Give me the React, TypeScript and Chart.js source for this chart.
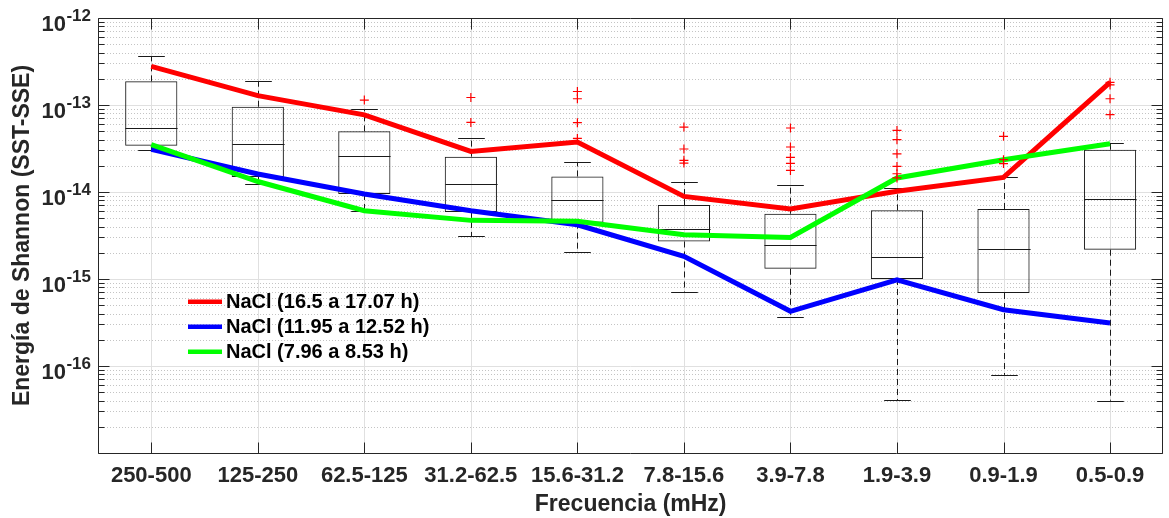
import React, { useEffect, useRef } from 'react';
import { Chart, registerables } from 'chart.js';

Chart.register(...registerables);

const categories = ['250-500', '125-250', '62.5-125', '31.2-62.5', '15.6-31.2', '7.8-15.6', '3.9-7.8', '1.9-3.9', '0.9-1.9', '0.5-0.9'];

const redSeries = [2.78e-13, 1.28e-13, 7.7e-14, 2.93e-14, 3.75e-14, 8.9e-15, 6.4e-15, 1.02e-14, 1.47e-14, 1.82e-13];
const blueSeries = [3.1e-14, 1.61e-14, 9.5e-15, 6.1e-15, 4.2e-15, 1.82e-15, 4.25e-16, 9.8e-16, 4.44e-16, 3.12e-16];
const greenSeries = [3.5e-14, 1.32e-14, 6.1e-15, 4.72e-15, 4.6e-15, 3.23e-15, 3.0e-15, 1.45e-14, 2.35e-14, 3.59e-14];

const boxQ1 = [3.4e-14, 1.49e-14, 9.5e-15, 5.9e-15, 4.44e-15, 2.7e-15, 1.31e-15, 1.0e-15, 6.9e-16, 2.17e-15];
const boxMedian = [5.44e-14, 3.56e-14, 2.57e-14, 1.25e-14, 8.16e-15, 3.76e-15, 2.48e-15, 1.79e-15, 2.21e-15, 8.37e-15];
const boxQ3 = [1.87e-13, 9.55e-14, 4.98e-14, 2.55e-14, 1.51e-14, 7.08e-15, 5.63e-15, 6.15e-15, 6.38e-15, 3.06e-14];
const whiskerLow = [3.0e-14, 1.25e-14, 5.98e-15, 3.12e-15, 2.06e-15, 7.1e-16, 3.66e-16, 4.07e-17, 7.9e-17, 3.99e-17];
const whiskerHigh = [3.66e-13, 1.89e-13, 9.0e-14, 4.18e-14, 2.21e-14, 1.31e-14, 1.19e-14, 1.11e-14, 1.49e-14, 3.66e-14];

const outliers = [
  [],
  [],
  [1.14e-13],
  [1.22e-13, 6.3e-14],
  [1.43e-13, 1.18e-13, 6.26e-14, 4.13e-14],
  [5.58e-14, 3.12e-14, 2.31e-14, 2.15e-14],
  [5.44e-14, 3.29e-14, 2.5e-14, 2.13e-14, 1.77e-14],
  [5.1e-14, 3.99e-14, 2.75e-14, 1.97e-14, 1.62e-14, 1.45e-14],
  [4.36e-14, 2.35e-14, 2.12e-14],
  [1.82e-13, 1.7e-13, 1.18e-13, 7.74e-14],
];

const legendLabels = ['NaCl (16.5 a 17.07 h)', 'NaCl (11.95 a 12.52 h)', 'NaCl (7.96 a 8.53 h)'];
const seriesColors = ['#ff0000', '#0000ff', '#00ff00'];

const yDecades = [-17, -16, -15, -14, -13, -12];
const yLabelDecades = [-16, -15, -14, -13, -12];

const FONT = '"Liberation Sans", Arial, Helvetica, sans-serif';
const AXIS_COLOR = '#262626';

export default function App() {
  const ref = useRef<HTMLCanvasElement>(null);

  useEffect(() => {
    const canvas = ref.current;
    if (!canvas) return;

    const outlierPoints = outliers.flatMap((arr, i) => arr.map((v) => ({ x: categories[i], y: v })));

    const decorPlugin = {
      id: 'decor',
      beforeDatasetsDraw(chart: any) {
        const { ctx, chartArea: a, scales } = chart;
        const ys = scales.y;
        const xs = scales.x;
        ctx.save();
        ctx.strokeStyle = '#c4c4c4';
        ctx.lineWidth = 1;
        ctx.setLineDash([1, 2]);
        for (let d = 0; d < yDecades.length - 1; d++) {
          for (let m = 2; m <= 9; m++) {
            const y = Math.round(ys.getPixelForValue(m * Math.pow(10, yDecades[d]))) + 0.5;
            ctx.beginPath();
            ctx.moveTo(a.left, y);
            ctx.lineTo(a.right, y);
            ctx.stroke();
          }
        }
        ctx.setLineDash([]);
        ctx.strokeStyle = '#e0e0e0';
        yDecades.forEach((e) => {
          const y = Math.round(ys.getPixelForValue(Math.pow(10, e))) + 0.5;
          ctx.beginPath();
          ctx.moveTo(a.left, y);
          ctx.lineTo(a.right, y);
          ctx.stroke();
        });
        categories.forEach((_, i) => {
          const x = Math.round(xs.getPixelForValue(i)) + 0.5;
          ctx.beginPath();
          ctx.moveTo(x, a.top);
          ctx.lineTo(x, a.bottom);
          ctx.stroke();
        });
        ctx.restore();
      },
      afterDatasetDraw(chart: any, args: any) {
        if (args.index !== 0) return;
        const { ctx, scales } = chart;
        const ys = scales.y;
        const xs = scales.x;
        ctx.save();
        ctx.strokeStyle = '#1a1a1a';
        ctx.lineWidth = 1;
        categories.forEach((_, i) => {
          const x = Math.round(xs.getPixelForValue(i)) + 0.5;
          const band = xs.getPixelForValue(1) - xs.getPixelForValue(0);
          const boxHalf = band * 0.245;
          const capHalf = band * 0.125;
          const yq1 = ys.getPixelForValue(boxQ1[i]);
          const yq3 = ys.getPixelForValue(boxQ3[i]);
          const ylo = ys.getPixelForValue(whiskerLow[i]);
          const yhi = ys.getPixelForValue(whiskerHigh[i]);
          const ymed = Math.round(ys.getPixelForValue(boxMedian[i])) + 0.5;
          ctx.setLineDash([6, 4]);
          ctx.beginPath();
          ctx.moveTo(x, yq3);
          ctx.lineTo(x, yhi);
          ctx.moveTo(x, yq1);
          ctx.lineTo(x, ylo);
          ctx.stroke();
          ctx.setLineDash([]);
          ctx.beginPath();
          const yh = Math.round(yhi) + 0.5;
          const yl = Math.round(ylo) + 0.5;
          ctx.moveTo(x - capHalf, yh);
          ctx.lineTo(x + capHalf, yh);
          ctx.moveTo(x - capHalf, yl);
          ctx.lineTo(x + capHalf, yl);
          ctx.stroke();
          ctx.beginPath();
          ctx.moveTo(x - boxHalf, ymed);
          ctx.lineTo(x + boxHalf, ymed);
          ctx.stroke();
        });
        ctx.restore();
      },
      afterDraw(chart: any) {
        const { ctx, chartArea: a, scales } = chart;
        const ys = scales.y;
        const xs = scales.x;
        ctx.save();
        ctx.strokeStyle = AXIS_COLOR;
        ctx.lineWidth = 1;
        const L = Math.round(a.left) + 0.5;
        const R = Math.round(a.right) - 0.5;
        const T = Math.round(a.top) + 0.5;
        const B = Math.round(a.bottom) + 0.5;
        ctx.beginPath();
        ctx.rect(L, T, R - L, B - T);
        ctx.stroke();
        ctx.beginPath();
        for (let d = 0; d < yDecades.length; d++) {
          const y = Math.round(ys.getPixelForValue(Math.pow(10, yDecades[d]))) + 0.5;
          ctx.moveTo(L, y);
          ctx.lineTo(L + 11, y);
          ctx.moveTo(R, y);
          ctx.lineTo(R - 11, y);
          if (d < yDecades.length - 1) {
            for (let m = 2; m <= 9; m++) {
              const ym = Math.round(ys.getPixelForValue(m * Math.pow(10, yDecades[d]))) + 0.5;
              ctx.moveTo(L, ym);
              ctx.lineTo(L + 6, ym);
              ctx.moveTo(R, ym);
              ctx.lineTo(R - 6, ym);
            }
          }
        }
        categories.forEach((_, i) => {
          const x = Math.round(xs.getPixelForValue(i)) + 0.5;
          ctx.moveTo(x, B);
          ctx.lineTo(x, B - 11);
          ctx.moveTo(x, T);
          ctx.lineTo(x, T + 11);
        });
        ctx.stroke();

        ctx.fillStyle = AXIS_COLOR;
        ctx.textAlign = 'right';
        ctx.textBaseline = 'alphabetic';
        yLabelDecades.forEach((e) => {
          const y = ys.getPixelForValue(Math.pow(10, e));
          const exp = String(e);
          ctx.font = `bold 17px ${FONT}`;
          const ew = ctx.measureText(exp).width;
          ctx.fillText(exp, 91, y + 2.5);
          ctx.font = `bold 22px ${FONT}`;
          ctx.fillText('10', 91 - ew - 0.5, y + 13);
        });

        ctx.textAlign = 'left';
        ctx.textBaseline = 'middle';
        ctx.font = `bold 20px ${FONT}`;
        legendLabels.forEach((label, i) => {
          const y = 301.7 + i * 25;
          ctx.strokeStyle = seriesColors[i];
          ctx.lineWidth = 4.5;
          ctx.beginPath();
          ctx.moveTo(188, y);
          ctx.lineTo(222, y);
          ctx.stroke();
          ctx.fillStyle = '#000000';
          ctx.fillText(label, 226, y + 1);
        });
        ctx.restore();
      },
    };

    const chart = new Chart(canvas, {
      type: 'bar',
      data: {
        labels: categories,
        datasets: [
          {
            type: 'bar',
            label: 'box',
            data: categories.map((_, i) => [boxQ1[i], boxQ3[i]]) as any,
            backgroundColor: 'rgba(0,0,0,0)',
            borderColor: '#1a1a1a',
            borderWidth: 1,
            borderSkipped: false,
            categoryPercentage: 1,
            barPercentage: 0.49,
            order: 10,
          } as any,
          {
            type: 'line',
            label: legendLabels[0],
            data: redSeries,
            borderColor: seriesColors[0],
            backgroundColor: seriesColors[0],
            borderWidth: 5,
            pointRadius: 0,
            tension: 0,
            order: 4,
          },
          {
            type: 'line',
            label: legendLabels[1],
            data: blueSeries,
            borderColor: seriesColors[1],
            backgroundColor: seriesColors[1],
            borderWidth: 5,
            pointRadius: 0,
            tension: 0,
            order: 3,
          },
          {
            type: 'line',
            label: legendLabels[2],
            data: greenSeries,
            borderColor: seriesColors[2],
            backgroundColor: seriesColors[2],
            borderWidth: 5,
            pointRadius: 0,
            tension: 0,
            order: 2,
          },
          {
            type: 'line',
            label: 'outliers',
            data: outlierPoints as any,
            showLine: false,
            pointStyle: 'cross',
            pointRadius: 4.5,
            pointBorderWidth: 1.2,
            borderColor: '#ff0000',
            backgroundColor: '#ff0000',
            order: 1,
          } as any,
        ],
      },
      options: {
        animation: false,
        responsive: false,
        layout: { padding: { top: 18, right: 1, left: 0, bottom: 0 } },
        plugins: { legend: { display: false }, tooltip: { enabled: false } },
        scales: {
          x: {
            type: 'category',
            offset: true,
            grid: { display: false, drawTicks: false },
            border: { display: false },
            ticks: {
              font: { family: FONT, size: 22, weight: 'bold' },
              color: AXIS_COLOR,
              padding: 10,
              maxRotation: 0,
              autoSkip: false,
            },
            title: {
              display: true,
              text: 'Frecuencia (mHz)',
              font: { family: FONT, size: 23, weight: 'bold' },
              color: AXIS_COLOR,
              padding: { top: 0, bottom: 0 },
            },
            afterFit: (s: any) => {
              s.height = 65;
            },
          },
          y: {
            type: 'logarithmic',
            min: 1e-17,
            max: 1e-12,
            grid: { display: false, drawTicks: false },
            border: { display: false },
            ticks: { display: false },
            title: {
              display: true,
              text: 'Energía de Shannon (SST-SSE)',
              font: { family: FONT, size: 23, weight: 'bold' },
              color: AXIS_COLOR,
              padding: { top: 9, bottom: 0 },
            },
            afterFit: (s: any) => {
              s.width = 98;
            },
          },
        },
      } as any,
      plugins: [decorPlugin],
    });

    return () => {
      chart.destroy();
    };
  }, []);

  return (
    <div style={{ position: 'absolute', left: 0, top: 0, width: 1169, height: 518, background: '#ffffff' }}>
      <canvas ref={ref} width={1169} height={518} style={{ display: 'block' }} />
    </div>
  );
}
